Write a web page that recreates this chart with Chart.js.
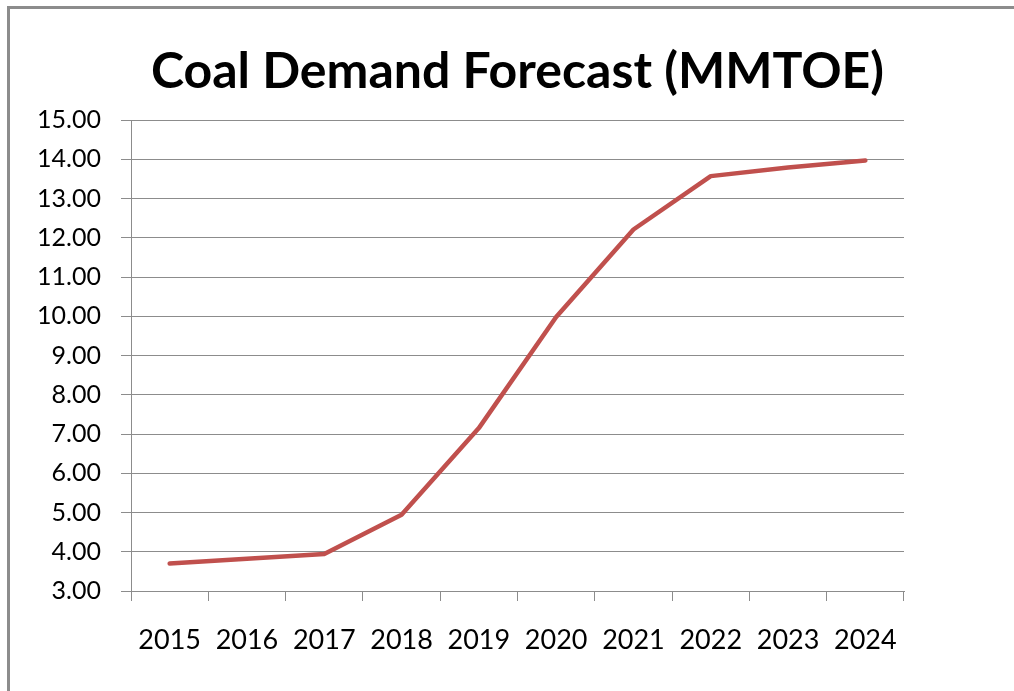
<!DOCTYPE html>
<html>
<head>
<meta charset="utf-8">
<script src="https://cdn.jsdelivr.net/npm/chart.js@4"></script>
<style>
  html, body { margin: 0; padding: 0; background: #fff; }
  body { width: 1014px; height: 691px; position: relative; overflow: hidden; }
  #frame { position: absolute; left: 7px; top: 6px; width: 1100px; height: 800px;
           border-left: 3px solid #8c8c8c; border-top: 3px solid #8c8c8c; }
  #wrap { position: absolute; left: 0; top: 0; width: 1014px; height: 691px; }
</style>
</head>
<body>
<div id="frame"></div>
<div id="wrap"><canvas id="c" width="1014" height="691"></canvas></div>
<script>
const years = ["2015","2016","2017","2018","2019","2020","2021","2022","2023","2024"];
const coalDemand = [3.70, 3.82, 3.94, 4.94, 7.15, 9.98, 12.21, 13.57, 13.79, 13.97];
const yTicks = [3,4,5,6,7,8,9,10,11,12,13,14,15];
const titleText = "Coal Demand Forecast (MMTOE)";

new Chart(document.getElementById('c'), {
  type: 'line',
  data: {
    labels: years,
    datasets: [{
      label: 'Coal demand',
      data: coalDemand,
      borderColor: '#C0504D',
      borderWidth: 4.5,
      pointRadius: 0,
      tension: 0,
      fill: false,
      borderCapStyle: 'round',
      borderJoinStyle: 'round'
    }]
  },
  options: {
    responsive: false,
    animation: false,
    devicePixelRatio: 1,
    layout: { padding: { left: 0, right: 110, top: 0, bottom: 0 } },
    plugins: {
      legend: { display: false },
      tooltip: { enabled: false },
      title: {
        display: true,
        text: titleText,
        fullSize: false,
        color: '#000',
        font: { family: 'Lato', weight: 'bold', size: 50, lineHeight: 1.2 },
        padding: { top: 42, bottom: 18 }
      }
    },
    scales: {
      x: {
        type: 'category',
        offset: true,
        grid: { offset: true, drawOnChartArea: false, drawTicks: true, tickLength: 10, color: '#8c8c8c' },
        border: { color: '#8c8c8c', width: 1 },
        ticks: { color: '#000', font: { family: 'Lato', size: 27 }, padding: 23, maxRotation: 0, autoSkip: false },
        afterFit: s => { s.height = 100; }
      },
      y: {
        min: 3, max: 15,
        afterBuildTicks: s => { s.ticks = yTicks.map(v => ({ value: v })); },
        grid: { color: '#8c8c8c', tickLength: 10, drawTicks: true },
        border: { color: '#8c8c8c', width: 1 },
        ticks: { color: '#000', font: { family: 'Lato', size: 25 }, padding: 20,
                 callback: v => Number(v).toFixed(2) },
        afterFit: s => { s.width = 131; }
      }
    }
  }
});
</script>
</body>
</html>
